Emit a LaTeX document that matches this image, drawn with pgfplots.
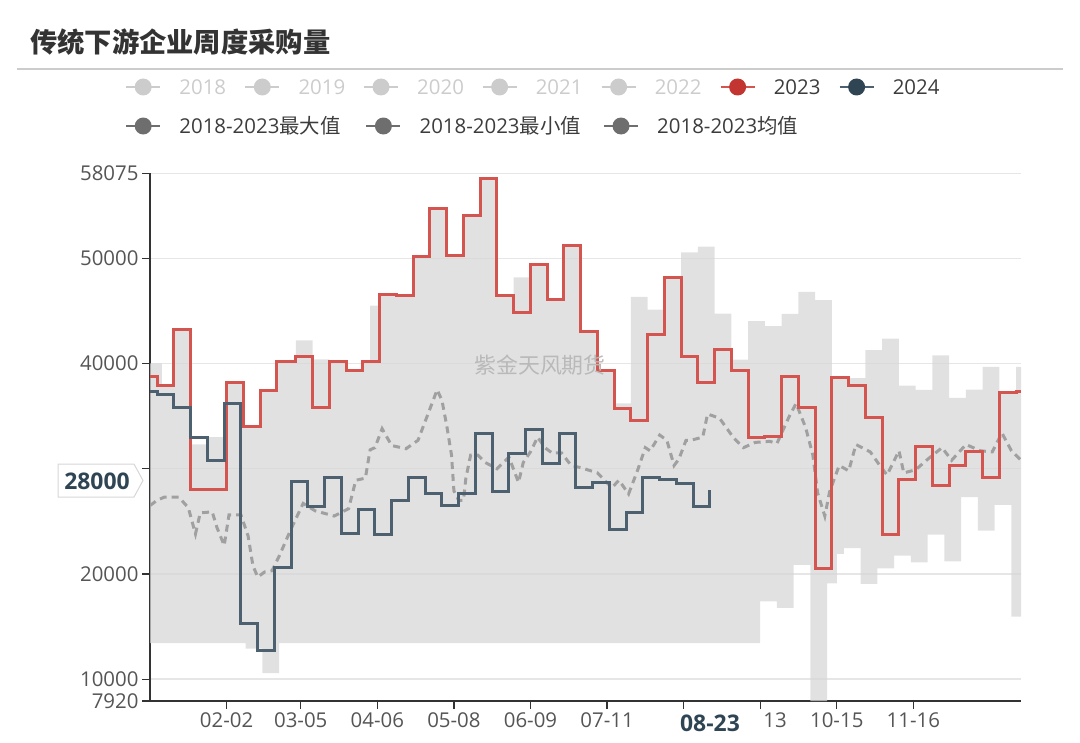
\documentclass[border=0pt]{standalone}
\usepackage{pgfplots}
\pgfplotsset{compat=1.18}
\usepgfplotslibrary{fillbetween}
\usepackage{fontspec}
\setmainfont{Open Sans}
\newfontfamily\cjk{Noto Sans CJK SC}

\definecolor{areagray}{RGB}{214,214,214}
\definecolor{redline}{RGB}{212,85,80}
\definecolor{redicon}{RGB}{194,53,49}
\definecolor{blueline}{RGB}{76,96,112}
\definecolor{blueicon}{RGB}{47,69,84}
\definecolor{meangray}{RGB}{160,160,160}
\definecolor{axisdark}{RGB}{51,51,51}
\definecolor{labelgray}{RGB}{85,85,85}
\definecolor{textdark}{RGB}{60,60,60}
\definecolor{offgray}{RGB}{204,204,204}
\definecolor{icongray}{RGB}{110,110,110}
\definecolor{gridgray}{RGB}{230,230,230}

\newcommand\tfont{\fontsize{20.5}{24}\selectfont}

\begin{document}
\begin{tikzpicture}

\begin{axis}[
    at={(150bp,-701bp)}, anchor=south west,
    scale only axis, width=871bp, height=527.7bp,
    xmin=0, xmax=364, ymin=7920, ymax=58075,
    axis x line*=bottom, axis y line*=left,
    axis line style={draw=axisdark, line width=1.3bp},
    tick align=outside, major tick length=8bp,
    tick style={draw=axisdark, line width=1.2bp},
    xtick={32,63,95,127,159,191,223,255,287,319},
    xticklabels={02-02,03-05,04-06,05-08,06-09,07-11,{},{\phantom{09-}13},10-15,11-16},
    ytick={7920,10000,20000,30000,40000,50000,58075},
    yticklabels={7920,10000,20000,{},40000,50000,58075},
    scaled y ticks=false,
    ticklabel style={font=\tfont, text=labelgray},
    ymajorgrids=true,
    grid style={draw=gridgray, line width=1.4bp},
]

% 2018-2023 max
\addplot[name path=maxp, draw=none, const plot] coordinates {
(0,40000) (5,37800) (10,43200) (17,32300) (24,33000) (32,38150) (39,34050)
(46,37450) (53,40240) (61,42200) (68,40400) (75,40200) (82,39300) (89,40150)
(92,45500) (96,46550) (103,46500) (110,50150) (117,54750) (124,50300) (131,54050)
(138,57540) (145,46430) (152,48180) (159,49420) (166,46100) (173,51200) (180,43000)
(187,39300) (194,36200) (201,46330) (208,45130) (215,48200) (222,50560) (229,51100)
(236,44750) (243,40370) (250,44020) (257,43540) (264,44720) (271,46810) (278,46020)
(285,38660) (292,38600) (299,41260) (306,42370) (313,37900) (320,37500) (327,40760)
(334,36740) (341,37520) (348,39670) (355,37380) (362,39670) (364,39670)
};

% 2018-2023 min
\addplot[name path=minp, draw=none, const plot] coordinates {
(0,13430) (40,12900) (47,10580) (54,13430) (255,17400) (262,16770) (269,20870)
(276,7920) (283,19100) (287,21900) (290,22440) (297,19050) (304,20530) (311,21740)
(318,21100) (325,23740) (332,21200) (339,27290) (346,24120) (353,26570) (360,15940)
(364,15940)
};

\addplot[fill=areagray, fill opacity=0.72, draw=none] fill between[of=maxp and minp];

% 2018-2023 mean
\addplot[meangray, line width=3bp, dash pattern=on 7bp off 5bp] coordinates {
(0,26500) (3,27000) (6,27300) (12,27300) (16,26300) (19,23800) (21,25800) (26,25900)
(28,24400) (31,22700) (33,25600) (38,25600) (41,23600) (43,20800) (45,19700) (48,20200)
(51,20300) (54,21700) (59,24300) (64,26700) (69,26000) (77,25500) (83,26200) (86,28900)
(90,29100) (92,31800) (94,32000) (97,33800) (101,32200) (107,31900) (112,32700) (116,35100)
(120,37500) (122,36500) (124,34100) (126,31300) (127,27900) (129,27000) (131,27000) (132,29100)
(134,31300) (137,31300) (140,30600) (145,30000) (150,31100) (154,28700) (156,30600) (159,31600)
(162,33000) (165,32000) (168,31500) (172,31500) (176,30300) (180,30100) (187,29600) (193,28200)
(196,28900) (200,27600) (204,30000) (207,32000) (209,31700) (213,33200) (216,32700) (219,30300)
(221,30900) (224,32700) (226,32700) (231,33000) (233,35200) (238,34800) (244,32900) (248,32000)
(253,32500) (259,32600) (262,32400) (267,34900) (270,36200) (274,33900) (277,31300) (279,27700)
(282,25500) (284,27800) (288,30300) (292,29800) (295,32300) (301,31600) (305,30300) (308,29400)
(313,31700) (315,29600) (320,29900) (325,30900) (331,32000) (335,30800) (341,32300) (347,31700)
(352,31600) (356,33400) (360,31700) (364,30800)
};

% 2023
\addplot[redline, line width=3bp, const plot] coordinates {
(0,38800) (3,37900) (10,43200) (17,28000) (32,38150) (39,34050) (46,37450) (53,40200)
(61,40700) (68,35800) (75,40200) (82,39300) (89,40150) (96,46550) (103,46500) (110,50150)
(117,54750) (124,50300) (131,54050) (138,57540) (145,46430) (152,44850) (159,49420) (166,46100)
(173,51200) (180,43000) (187,39290) (194,35710) (201,34600) (208,42800) (215,48200) (222,40700)
(229,38150) (236,41350) (243,39290) (250,33000) (257,33100) (264,38750) (271,35800) (278,20480)
(285,38660) (292,37950) (299,34830) (306,23730) (313,29020) (320,32080) (327,28430) (334,30310)
(341,31640) (348,29140) (355,37220) (362,37370) (364,37370)
};

% 2024
\addplot[blueline, line width=3bp, const plot] coordinates {
(0,37300) (3,37070) (10,35860) (17,32980) (24,30820) (31,36200) (38,15300) (45,12760)
(52,20600) (59,28800) (66,26410) (73,29120) (80,23880) (87,26100) (94,23720) (101,27000)
(108,29200) (115,27690) (122,26530) (129,27650) (136,33300) (143,27860) (150,31420) (157,33680)
(164,30530) (171,33360) (178,28240) (185,28720) (192,24230) (199,25860) (206,29140) (213,29010)
(220,28640) (227,26410) (234,28000)
};
\end{axis}

\begin{scope}[x=1bp, y=-1bp]
% title and rule
\node[anchor=west, inner sep=0, text=axisdark] at (30,42)
  {\cjk\bfseries\fontsize{27.4}{30}\selectfont 传统下游企业周度采购量};
\draw[draw=offgray, line width=2bp] (17,69) -- (1063,69);

% legend, row 1
\foreach \s/\t in {179.2/2018, 298.3/2019, 417/2020, 535.6/2021, 654.6/2022} {
  \draw[offgray, line width=2bp] (\s-53,87) -- (\s-19,87);
  \fill[offgray] (\s-36,87) circle (8.5);
  \node[anchor=west, inner sep=0, text=offgray, font=\tfont] at (\s,87) {\t};
}
\draw[redline, line width=2bp] (773.6-53,87) -- (773.6-19,87);
\fill[redicon] (773.6-36,87) circle (8.5);
\node[anchor=west, inner sep=0, text=textdark, font=\tfont] at (773.6,87) {2023};
\draw[blueline, line width=2bp] (892.6-53,87) -- (892.6-19,87);
\fill[blueicon] (892.6-36,87) circle (8.5);
\node[anchor=west, inner sep=0, text=textdark, font=\tfont] at (892.6,87) {2024};

% legend, row 2
\foreach \s/\t in {179.2/最大值, 419.4/最小值, 657/均值} {
  \draw[icongray, line width=2bp] (\s-53,126) -- (\s-19,126);
  \fill[icongray] (\s-36,126) circle (8.5);
  \node[anchor=west, inner sep=0, text=textdark, font=\tfont] at (\s,126) {2018-2023{\cjk\t}};
}

% watermark
\node[text={rgb,255:red,185;green,185;blue,185}, font=\cjk\fontsize{22}{24}\selectfont] at (540,365) {紫金天风期货};

% pointer labels
\filldraw[fill=white, draw={rgb,255:red,215;green,215;blue,215}, line width=1bp]
  (58,464) -- (134,464) -- (143,480.5) -- (134,497) -- (58,497) -- cycle;
\node[text=blueicon, font=\bfseries\fontsize{23}{26}\selectfont] at (97,481) {28000};
\node[text=blueicon, font=\bfseries\fontsize{23}{26}\selectfont] at (710,723) {08-23};

\path (0,0) rectangle (1080,743);
\end{scope}
\end{tikzpicture}
\end{document}
